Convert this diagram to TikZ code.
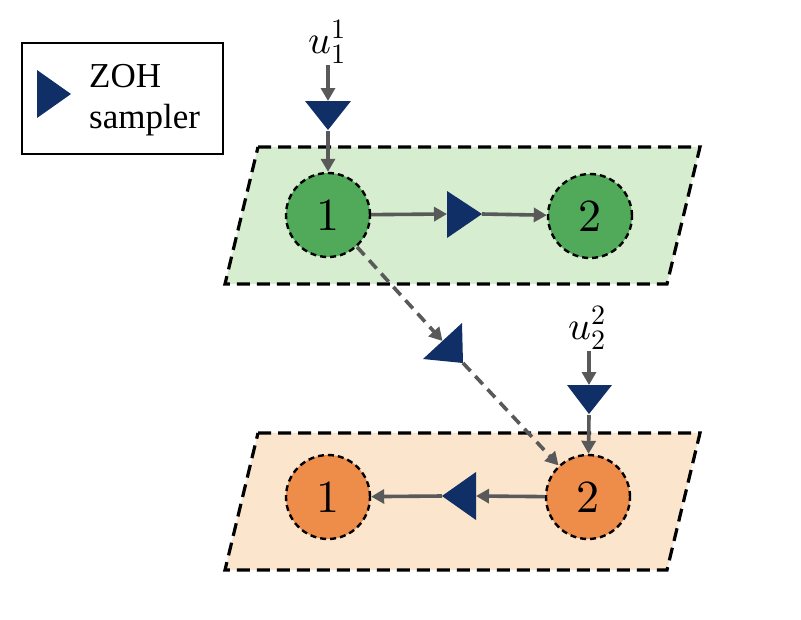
\documentclass[tikz,border=0pt]{standalone}
\usepackage{fontspec}
\usepackage{unicode-math}
\setmainfont{Liberation Serif}
\setmathfont{Latin Modern Math}
\usetikzlibrary{arrows.meta}
\definecolor{planegreen}{RGB}{214,237,207}
\definecolor{nodegreen}{RGB}{80,170,90}
\definecolor{planeorange}{RGB}{251,229,205}
\definecolor{nodeorange}{RGB}{238,140,74}
\definecolor{zohblue}{RGB}{15,47,102}
\definecolor{linkgray}{RGB}{89,89,89}
\tikzset{
  plane/.style={line width=3.2pt, dash pattern=on 13pt off 7pt},
  agent/.style={circle, minimum size=84pt, inner sep=0pt, draw=black, line width=2.4pt,
    dash pattern=on 6pt off 4pt, font=\fontsize{46}{46}\selectfont},
  link/.style={draw=linkgray, line width=3.6pt, -{Triangle[length=13pt,width=14pt]}},
  comm/.style={link, dash pattern=on 11pt off 7pt},
  label/.style={font=\fontsize{40}{40}\selectfont, inner sep=1pt},
}
\begin{document}
\begin{tikzpicture}[x=1pt, y=-1pt]
        \useasboundingbox (0,0) rectangle (801,619);
        % Legend
        \draw[line width=1.8pt] (22,43) rectangle (223,154);
        \fill[zohblue] (37,70) -- (37,118) -- (71,94) -- cycle;
        \node[anchor=north west, align=left, inner sep=0pt, font=\fontsize{35}{41}\selectfont] (legend) at (89,64) {ZOH\\sampler};
        % Layers (parallelograms)
        \filldraw[plane, fill=planegreen] (258,147) -- (700,147) -- (667,284) -- (225,284) -- cycle;
        \filldraw[plane, fill=planeorange] (258,433) -- (700,433) -- (667,570) -- (225,570) -- cycle;
        % Agents of the upper layer
        \node[agent, fill=nodegreen] (g1) at (328,215) {$1$};
        \node[agent, fill=nodegreen] (g2) at (590,216) {$2$};
        % Agents of the lower layer
        \node[agent, fill=nodeorange] (o1) at (328,497) {$1$};
        \node[agent, fill=nodeorange] (o2) at (588,497) {$2$};
        % Inputs
        \node[label] (u1) at (327,42) {$u_1^1$};
        \node[label] (u2) at (587,328) {$u_2^2$};
        % ZOH samplers
        \fill[zohblue] (305,101) -- (351,101) -- (328,130) -- cycle;
        \coordinate (s1in) at (328,101);
        \coordinate (s1out) at (328,131);
        \fill[zohblue] (447,191) -- (447,238) -- (482,214) -- cycle;
        \coordinate (s2in) at (447,214);
        \coordinate (s2out) at (482,214);
        \fill[zohblue] (462,323) -- (423,359) -- (463,363) -- cycle;
        \coordinate (s3in) at (442.5,341);
        \coordinate (s3out) at (463,363);
        \fill[zohblue] (567,385) -- (612,385) -- (589,414) -- cycle;
        \coordinate (s4in) at (589,385);
        \coordinate (s4out) at (589,415);
        \fill[zohblue] (476,472) -- (476,520) -- (442,496) -- cycle;
        \coordinate (s5in) at (476,496);
        \coordinate (s5out) at (442,496);
        % Connectors
        \draw[link] (u1.south -| s1in) -- (s1in);
        \draw[link] (s1out) -- (g1);
        \draw[link] (g1) -- (s2in);
        \draw[link] (s2out) -- (g2);
        \draw[comm] (g1) -- (s3in);
        \draw[comm] (s3out) -- (o2);
        \draw[link] (u2.south -| s4in) -- (s4in);
        \draw[link] (s4out) -- (o2);
        \draw[link] (o2) -- (s5in);
        \draw[link] (s5out) -- (o1);
    \end{tikzpicture}
\end{document}
